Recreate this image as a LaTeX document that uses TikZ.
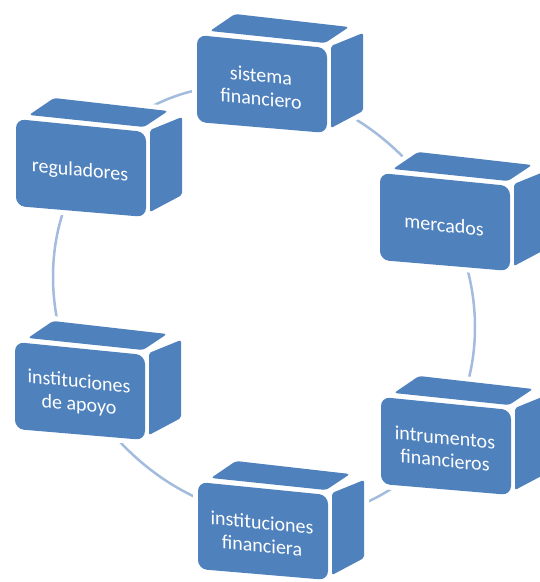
\documentclass[tikz,border=0pt]{standalone}
\usepackage{fontspec}
\newfontfamily\boxfont{Carlito}
\definecolor{boxblue}{HTML}{4F81BD}
\definecolor{ringblue}{HTML}{A3BCDD}
\tikzset{
  face/.style={fill=boxblue},
  halo/.style={fill=white, draw=white, line width=10pt, line join=round},
  boxtext/.style={text=white, font=\boxfont\fontsize{20}{23}\selectfont, align=center, yslant=-0.1, inner sep=0pt},
  ring/.style={draw=ringblue, line width=2.5pt},
  pics/cubebox/.style={code={
    \path[halo] (0,0) -- (13,-4) -- (38,-21) -- (152,-8) -- (166,-2) -- (166,76) -- (135,93) -- (130,98) -- (0,87) -- cycle;
    \fill[face, rounded corners=9pt] (0,0) -- (130,13) -- (130,98) -- (0,87) -- cycle;
    \fill[face, rounded corners=3pt] (13,-4) -- (38,-21) -- (152,-8) -- (128,8) -- cycle;
    \fill[face, rounded corners=2pt] (134,11) -- (166,-2) -- (166,76) -- (134,93) -- cycle;
    \begin{scope}[shift={(64,52)}]
      \node[boxtext] (-t) {#1};
    \end{scope}
  }}
}
\begin{document}
\begin{tikzpicture}[x=1pt, y=-1pt]
  \useasboundingbox (0,0) rectangle (540,582);
  \fill[white] (0,0) rectangle (540,582);
  \clip (0,0) rectangle (540,582);
  \draw[ring, shift={(264,302)}, yslant=-0.12] (0,0) ellipse [x radius=211pt, y radius=215pt];
  \pic (b1) at (197,35)  {cubebox={sistema\\financiero}};
  \pic (b2) at (16,119)  {cubebox={reguladores}};
  \pic (b3) at (380,173) {cubebox={mercados}};
  \pic (b4) at (381,397) {cubebox={intrumentos\\financieros}};
  \pic (b5) at (198,482) {cubebox={instituciones\\financiera}};
  \pic (b6) at (15,342)  {cubebox={instituciones\\de apoyo}};
\end{tikzpicture}
\end{document}
